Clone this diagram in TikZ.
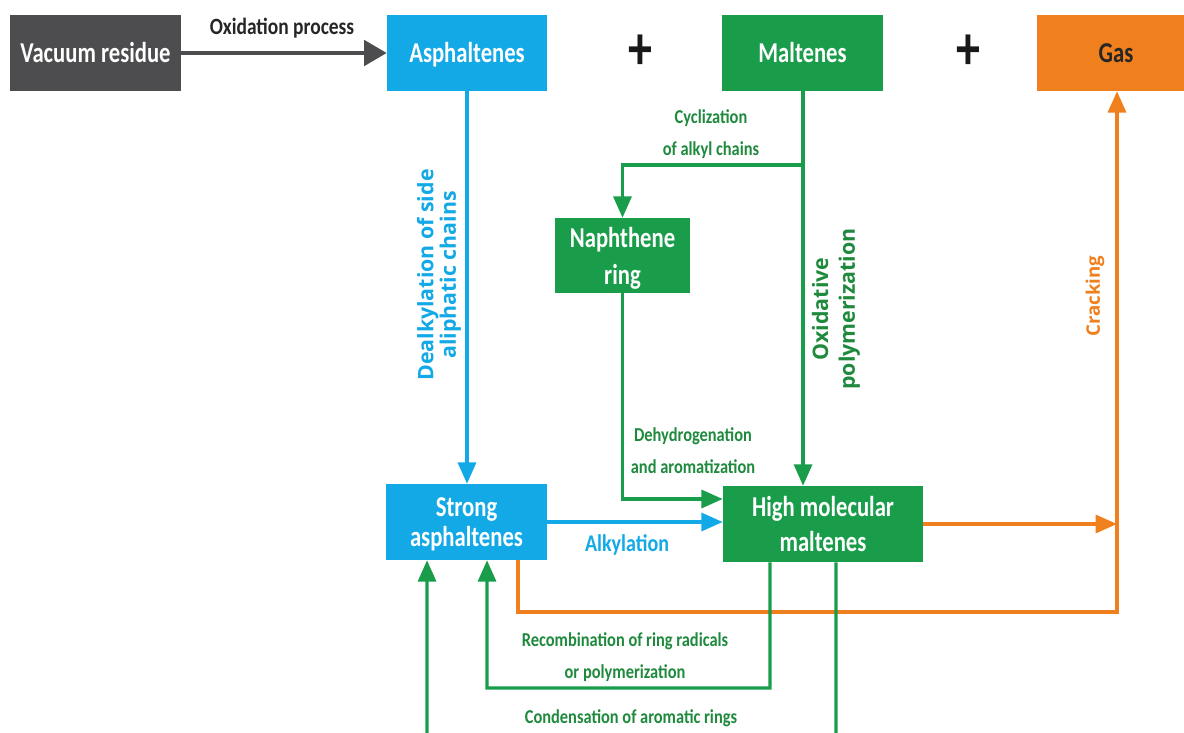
\documentclass[tikz,border=0pt]{standalone}
\usepackage{fontspec}
\setmainfont{Carlito}
\newfontfamily\rotfont{Open Sans}
\usetikzlibrary{arrows.meta}
\definecolor{cgray}{HTML}{4D4D4F}
\definecolor{cblue}{HTML}{12A9E6}
\definecolor{cgreen}{HTML}{1A9D4A}
\definecolor{tgreen}{HTML}{1F8A3E}
\definecolor{corange}{HTML}{F0801E}
\newcommand\vs[1]{\raisebox{-2.4pt}[\height][\depth]{\scalebox{1}[1.27]{\begin{tabular}{@{}c@{}}#1\end{tabular}}}}
\newcommand\vl[1]{\scalebox{1}[1.2]{\begin{tabular}{@{}c@{}}#1\end{tabular}}}
\tikzset{
  box/.style={rectangle, inner sep=0pt, text=white, font=\fontsize{17}{18}\selectfont\bfseries, align=center, minimum height=57pt},
  conn/.style={line width=2.4pt, -{Triangle[length=16pt,width=13.5pt]}},
  lbl/.style={font=\fontsize{12.3}{20}\selectfont\bfseries, text=tgreen, align=center, inner sep=0pt},
  rlbl/.style={font=\rotfont\fontsize{16}{17}\selectfont\bfseries, align=center, rotate=90, inner sep=0pt},
  plus/.style={font=\fontsize{36}{36}\selectfont\bfseries, text=black!90, inner sep=0pt},
}
\begin{document}
\begin{tikzpicture}[x=0.75pt,y=-0.75pt]
\useasboundingbox (0,0) rectangle (1184,732);
\clip (0,0) rectangle (1184,732);
\fill[white] (0,0) rectangle (1184,732);
% boxes
\node[box, fill=cgray, minimum width=128.25pt] (VR) at (95.5,53) {\vs{Vacuum residue}};
\node[box, fill=cblue, minimum width=120pt] (A) at (467,53) {\vs{Asphaltenes}};
\node[box, fill=cgreen, minimum width=120.75pt] (M) at (802.5,53) {\vs{Maltenes}};
\node[box, fill=corange, minimum width=118.5pt, text=black!85] (G) at (1116,53) {\vs{Gas}};
\node[box, fill=cgreen, minimum width=101.25pt, minimum height=56.25pt, font=\fontsize{17}{21.5}\selectfont\bfseries] (N) at (622.5,255.5) {\vs{Naphthene\\ring}};
\node[box, fill=cblue, minimum width=120.75pt] (SA) at (466.5,522) {\vs{Strong\\asphaltenes}};
\node[box, fill=cgreen, minimum width=150pt, font=\fontsize{17}{20.5}\selectfont\bfseries] (HM) at (823,524) {\vs{High molecular\\maltenes}};
% plus signs
\node[plus] (p1) at (640,52) {\scalebox{1}[1.3]{+}};
\node[plus] (p2) at (968,52) {\scalebox{1}[1.3]{+}};
% coordinates
\coordinate (br) at (803,165);
\coordinate (cx) at (1117,612);
\coordinate (rc) at (487,688);
\coordinate (cc) at (427,745);
% connectors
\draw[line width=3pt, cgray, -{Triangle[length=17pt,width=19pt]}] (VR.east) -- (A.west);
\draw[conn, cblue] (A.south) -- (A.south |- SA.north);
\draw[conn, cgreen] ([xshift=0.4pt]M.south) -- ([xshift=0.4pt]M.south |- HM.north);
\draw[conn, cgreen] (br) -- (br -| N.north) -- (N.north);
\draw[conn, cgreen] (N.south) |- ([yshift=18.75pt]HM.west);
\draw[conn, cblue] (SA.east) -- (SA.east -| HM.west);
\draw[conn, corange] (HM.east) -- (HM.east -| cx);
\draw[conn, corange] ([xshift=38.6pt]SA.south) |- (cx) -- (cx |- G.south);
\draw[conn, cgreen] ([xshift=-39.75pt]HM.south) |- (rc) -- ([xshift=15.4pt]SA.south);
\draw[conn, cgreen] ([xshift=9.75pt]HM.south) |- (cc) -- ([xshift=-29.6pt]SA.south);
% labels
\node[lbl, text=black!85, font=\fontsize{14.6}{16}\selectfont\bfseries] (l1) at (282,29) {\vl{Oxidation process}};
\node[lbl] (l2) at (711,133) {\vl{Cyclization\\of alkyl chains}};
\node[lbl] (l3) at (693,451) {\vl{Dehydrogenation\\and aromatization}};
\node[lbl, text=cblue, font=\fontsize{15}{16}\selectfont\bfseries] (l4) at (627,546) {\vl{Alkylation}};
\node[lbl] (l5) at (625,656) {\vl{Recombination of ring radicals\\or polymerization}};
\node[lbl] (l6) at (631,717) {\vl{Condensation of aromatic rings}};
\node[rlbl, text=cblue] (r1) at (439,275) {Dealkylation of side\\aliphatic chains};
\node[rlbl, text=tgreen, font=\rotfont\fontsize{16}{20}\selectfont\bfseries] (r2) at (836,309) {Oxidative\\polymerization};
\node[rlbl, text=corange, font=\rotfont\fontsize{14}{17}\selectfont\bfseries] (r3) at (1095,296) {Cracking};
\end{tikzpicture}
\end{document}
